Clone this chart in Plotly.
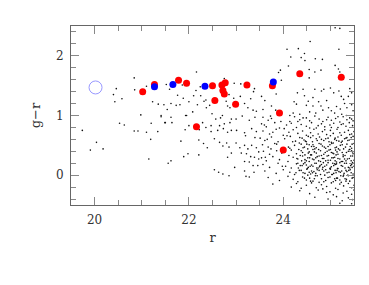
import plotly.graph_objects as go

# field objects (r, g-r)
field_stars = [
    # sparse, bright end
    (20.84, 1.63), (20.46, 1.45), (20.85, 1.43), (21.10, 1.49), (20.40, 1.35), (20.58, 1.28),
    (20.43, 1.23), (21.23, 1.23), (21.35, 1.19), (21.47, 1.18), (20.98, 1.01), (21.41, 1.00),
    (21.41, 0.98), (20.53, 0.87), (20.63, 0.84), (21.20, 0.87), (19.74, 0.75), (20.84, 0.74),
    (20.92, 0.74), (21.10, 0.72), (21.34, 0.73), (21.49, 0.88), (20.04, 0.55), (21.19, 0.60),
    (19.91, 0.42), (20.18, 0.44), (21.15, 0.27),
    # middle, upper
    (22.16, 1.73), (22.75, 1.62), (21.52, 1.52), (21.86, 1.51), (21.59, 1.44), (22.24, 1.48),
    (22.15, 1.42), (22.46, 1.49), (22.96, 1.54), (23.10, 1.53), (23.39, 1.45), (23.37, 1.40),
    (21.76, 1.34), (22.10, 1.33), (22.25, 1.33), (21.88, 1.29), (22.36, 1.26), (22.32, 1.24),
    (22.00, 1.23), (22.79, 1.24), (22.85, 1.35), (22.95, 1.29), (23.09, 1.32), (23.18, 1.20),
    (23.31, 1.28), (21.62, 1.20), (21.73, 1.17), (21.81, 1.18), (21.54, 1.10), (22.18, 1.18),
    (22.37, 1.13), (22.44, 1.17), (22.82, 1.16), (23.25, 1.13), (23.36, 1.09), (23.43, 1.07),
    (21.93, 1.00), (22.08, 1.06), (22.49, 1.03), (22.71, 1.00), (22.87, 1.13),
    # middle, lower
    (21.62, 0.97), (21.95, 1.00), (21.50, 0.88), (21.64, 0.88), (22.00, 0.83), (21.92, 0.76),
    (22.22, 0.76), (22.29, 0.88), (22.36, 0.80), (22.47, 0.83), (22.57, 0.94), (22.67, 0.96),
    (22.65, 0.83), (22.75, 0.86), (22.73, 0.78), (22.87, 0.88), (22.90, 0.94), (23.00, 0.94),
    (23.13, 0.99), (23.28, 0.92), (23.40, 0.97), (22.47, 0.73), (22.61, 0.75), (22.82, 0.72),
    (22.90, 0.75), (23.01, 0.75), (23.18, 0.71), (23.20, 0.66), (23.33, 0.78), (23.43, 0.73),
    (23.40, 0.63), (22.21, 0.59), (21.83, 0.57), (22.31, 0.53), (22.39, 0.46), (22.54, 0.61),
    (22.65, 0.55), (22.72, 0.49), (22.80, 0.54), (22.85, 0.47), (23.00, 0.54), (23.08, 0.46),
    (23.18, 0.50), (23.25, 0.44), (23.33, 0.50), (23.43, 0.46), (23.11, 0.37), (23.22, 0.36),
    (23.31, 0.31), (23.39, 0.30), (23.48, 0.27), (23.48, 0.39), (22.90, 0.37), (22.82, 0.30),
    (21.98, 0.36), (21.89, 0.31), (22.21, 0.34), (21.62, 0.24), (21.56, 0.20), (23.18, 0.23),
    (23.28, 0.22), (23.36, 0.16), (23.46, 0.16), (22.97, 0.13), (22.54, 0.09), (22.63, 0.05),
    (22.72, 0.02), (22.85, -0.01), (23.18, 0.07), (23.21, -0.02), (23.28, -0.03), (23.38, 0.05),
    # faint end, upper
    (25.10, 2.47), (25.20, 2.46), (24.57, 2.24), (24.08, 2.11), (24.32, 2.12), (24.45, 2.04),
    (25.18, 2.11), (24.16, 1.98), (24.38, 1.97), (24.46, 1.92), (24.68, 1.95), (24.83, 1.94),
    (24.11, 1.83), (25.10, 1.84), (25.17, 1.78), (25.20, 1.73), (23.94, 1.76), (23.90, 1.72),
    (24.55, 1.77), (24.67, 1.73), (24.80, 1.76), (23.96, 1.59), (24.42, 1.44), (24.55, 1.63),
    (24.67, 1.44), (24.81, 1.41), (24.86, 1.44), (25.00, 1.46), (25.07, 1.38), (25.18, 1.41),
    (25.41, 1.45), (25.45, 1.38), (25.38, 1.32), (23.54, 1.32), (23.85, 1.36), (23.61, 1.25),
    (23.75, 1.16), (23.84, 1.09), (24.23, 1.23), (24.28, 1.19), (24.49, 1.17), (24.53, 1.24),
    (24.63, 1.16), (24.75, 1.23), (24.80, 1.16), (24.92, 1.25), (24.96, 1.13), (24.84, 1.09),
    (25.02, 1.08), (25.13, 1.15), (25.21, 1.11), (25.30, 1.20), (25.35, 1.13), (25.45, 1.18),
    (25.48, 1.08), (25.09, 1.04), (25.24, 1.02), (25.34, 1.00), (24.56, 1.06), (24.69, 1.04),
    (24.35, 1.02), (24.21, 1.04), (24.14, 1.00), (24.63, 1.30), (24.45, 1.33), (24.30, 1.38),
    (25.23, 1.32), (25.28, 1.27), (23.57, 1.10),
    # faint end, dense cloud
    (23.57, 0.97), (23.68, 0.92), (23.75, 0.95), (24.14, 0.90), (24.24, 0.98), (24.35, 0.93),
    (24.42, 0.96), (24.56, 0.91), (24.67, 0.99), (24.76, 0.94), (24.84, 0.90), (24.95, 0.97),
    (25.02, 0.92), (25.11, 0.95), (25.20, 0.89), (25.27, 0.98), (25.35, 0.93), (25.41, 0.96),
    (25.48, 0.91), (23.73, 0.99), (24.31, 0.90), (24.49, 0.96), (24.92, 0.93), (25.16, 0.98),
    (25.45, 0.94),
    (23.54, 0.86), (23.64, 0.81), (23.82, 0.88), (23.92, 0.79), (24.07, 0.84), (24.17, 0.87),
    (24.28, 0.80), (24.38, 0.85), (24.49, 0.82), (24.60, 0.88), (24.70, 0.79), (24.81, 0.86),
    (24.88, 0.81), (24.99, 0.84), (25.07, 0.87), (25.16, 0.80), (25.23, 0.85), (25.33, 0.82),
    (25.40, 0.88), (25.47, 0.83), (24.56, 0.79), (24.74, 0.83), (25.02, 0.80), (25.27, 0.86),
    (23.57, 0.74), (23.71, 0.69), (23.85, 0.77), (24.00, 0.67), (24.12, 0.72), (24.21, 0.76),
    (24.31, 0.70), (24.41, 0.74), (24.49, 0.67), (24.58, 0.71), (24.65, 0.77), (24.74, 0.69),
    (24.83, 0.73), (24.92, 0.68), (25.00, 0.75), (25.06, 0.70), (25.14, 0.77), (25.23, 0.67),
    (25.30, 0.72), (25.38, 0.75), (25.45, 0.69), (25.50, 0.73), (24.63, 0.66), (24.88, 0.76),
    (25.20, 0.71), (25.41, 0.68),
    (23.51, 0.62), (23.61, 0.58), (23.75, 0.64), (23.89, 0.56), (24.03, 0.61), (24.15, 0.65),
    (24.26, 0.57), (24.35, 0.63), (24.44, 0.59), (24.53, 0.65), (24.62, 0.56), (24.70, 0.61),
    (24.77, 0.64), (24.86, 0.58), (24.95, 0.62), (25.02, 0.55), (25.09, 0.60), (25.16, 0.64),
    (25.25, 0.57), (25.33, 0.62), (25.40, 0.59), (25.48, 0.65), (24.49, 0.56), (24.81, 0.60),
    (25.13, 0.58), (25.35, 0.63), (25.00, 0.66),
    (23.56, 0.51), (23.68, 0.47), (23.82, 0.53), (24.14, 0.45), (24.24, 0.50), (24.34, 0.54),
    (24.42, 0.46), (24.50, 0.52), (24.60, 0.48), (24.67, 0.44), (24.76, 0.53), (24.83, 0.49),
    (24.90, 0.45), (24.99, 0.51), (25.06, 0.54), (25.13, 0.47), (25.21, 0.50), (25.28, 0.44),
    (25.35, 0.52), (25.42, 0.48), (25.50, 0.53), (24.70, 0.46), (24.95, 0.48), (25.23, 0.55),
    (25.45, 0.45), (24.63, 0.51),
    (23.58, 0.40), (23.71, 0.35), (24.17, 0.42), (24.28, 0.36), (24.38, 0.41), (24.46, 0.34),
    (24.55, 0.39), (24.63, 0.43), (24.70, 0.37), (24.79, 0.41), (24.86, 0.35), (24.93, 0.40),
    (25.00, 0.43), (25.07, 0.36), (25.14, 0.39), (25.20, 0.42), (25.27, 0.34), (25.34, 0.38),
    (25.41, 0.43), (25.48, 0.36), (24.53, 0.37), (24.81, 0.33), (25.02, 0.38), (25.16, 0.35),
    (25.38, 0.40), (25.45, 0.41), (24.60, 0.34), (25.11, 0.42),
    (23.54, 0.29), (23.64, 0.24), (23.78, 0.31), (23.92, 0.26), (24.10, 0.23), (24.21, 0.30),
    (24.31, 0.27), (24.41, 0.32), (24.49, 0.24), (24.56, 0.29), (24.65, 0.26), (24.72, 0.31),
    (24.79, 0.23), (24.86, 0.28), (24.93, 0.32), (25.00, 0.25), (25.06, 0.29), (25.13, 0.22),
    (25.20, 0.27), (25.27, 0.31), (25.33, 0.24), (25.40, 0.28), (25.47, 0.32), (24.46, 0.26),
    (24.69, 0.29), (24.90, 0.24), (25.09, 0.30), (25.30, 0.27), (25.50, 0.25), (25.23, 0.23),
    (23.57, 0.18), (23.71, 0.13), (23.89, 0.20), (24.05, 0.15), (24.17, 0.12), (24.28, 0.19),
    (24.36, 0.16), (24.46, 0.21), (24.53, 0.13), (24.60, 0.17), (24.67, 0.20), (24.74, 0.12),
    (24.81, 0.18), (24.88, 0.15), (24.95, 0.21), (25.02, 0.14), (25.09, 0.19), (25.16, 0.11),
    (25.23, 0.16), (25.30, 0.20), (25.38, 0.13), (25.45, 0.18), (25.50, 0.15), (24.49, 0.17),
    (24.77, 0.14), (24.99, 0.11), (25.20, 0.21), (25.41, 0.12), (24.63, 0.15), (25.11, 0.18),
    (23.61, 0.07), (23.85, 0.03), (24.00, 0.09), (24.14, 0.05), (24.24, 0.01), (24.34, 0.08),
    (24.42, 0.04), (24.50, 0.10), (24.58, 0.02), (24.65, 0.06), (24.72, 0.09), (24.79, 0.01),
    (24.86, 0.07), (24.93, 0.04), (25.00, 0.10), (25.07, 0.03), (25.14, 0.08), (25.21, 0.05),
    (25.28, 0.00), (25.35, 0.06), (25.42, 0.09), (25.48, 0.02), (24.55, 0.05), (24.83, 0.10),
    (25.04, 0.01), (25.33, 0.08), (24.69, 0.03), (25.18, 0.06),
    (23.68, -0.04), (23.92, -0.09), (24.10, -0.02), (24.21, -0.07), (24.31, -0.11), (24.41, -0.03),
    (24.49, -0.08), (24.56, -0.05), (24.63, -0.10), (24.72, -0.01), (24.81, -0.06), (24.90, -0.09),
    (24.99, -0.03), (25.06, -0.11), (25.13, -0.05), (25.20, -0.08), (25.27, -0.02), (25.34, -0.07),
    (25.41, -0.10), (25.48, -0.04), (24.76, -0.12), (25.09, -0.06), (25.38, -0.01),
    (23.78, -0.15), (24.17, -0.20), (24.28, -0.14), (24.38, -0.22), (24.49, -0.17), (24.60, -0.13),
    (24.70, -0.21), (24.81, -0.16), (24.92, -0.19), (25.02, -0.13), (25.11, -0.22), (25.20, -0.15),
    (25.28, -0.18), (25.38, -0.14), (25.45, -0.21), (25.50, -0.17), (24.84, -0.23), (25.23, -0.12),
    (24.35, -0.26), (24.56, -0.31), (24.74, -0.25), (24.92, -0.29), (25.06, -0.33), (25.16, -0.24),
    (25.27, -0.30), (25.35, -0.27), (25.45, -0.32), (25.50, -0.25), (24.99, -0.28),
    (24.67, -0.37), (24.95, -0.40), (25.13, -0.36), (25.25, -0.43), (25.38, -0.38), (25.47, -0.41),
    (25.20, -0.47), (25.45, -0.48),
    # extra points in the core of the cloud
    (24.40, 0.62), (24.58, 0.63), (24.90, 0.61), (25.10, 0.62), (25.30, 0.61), (25.44, 0.63),
    (24.47, 0.57), (24.72, 0.58), (24.97, 0.56), (25.18, 0.57), (25.37, 0.58),
    (24.38, 0.52), (24.55, 0.51), (24.80, 0.52), (25.03, 0.53), (25.25, 0.51), (25.46, 0.52),
    (24.45, 0.47), (24.65, 0.48), (24.87, 0.47), (25.10, 0.46), (25.32, 0.47),
    (24.33, 0.43), (24.52, 0.44), (24.75, 0.43), (24.97, 0.42), (25.17, 0.44), (25.40, 0.43),
    (24.41, 0.38), (24.66, 0.39), (24.89, 0.38), (25.05, 0.37), (25.25, 0.38), (25.47, 0.39),
    (24.36, 0.33), (24.58, 0.34), (24.76, 0.32), (24.96, 0.33), (25.12, 0.34), (25.31, 0.33),
    (25.43, 0.32),
    (24.29, 0.28), (24.52, 0.29), (24.62, 0.27), (24.83, 0.28), (25.03, 0.29), (25.16, 0.28),
    (25.36, 0.27),
    (24.39, 0.24), (24.55, 0.23), (24.75, 0.24), (24.95, 0.25), (25.10, 0.24), (25.26, 0.23),
    (25.44, 0.24),
    (24.31, 0.20), (24.43, 0.19), (24.70, 0.20), (24.85, 0.21), (25.05, 0.20), (25.13, 0.19),
    (25.34, 0.20), (25.47, 0.21),
    (24.40, 0.16), (24.57, 0.15), (24.78, 0.16), (24.92, 0.17), (25.07, 0.16), (25.26, 0.15),
    (25.43, 0.16),
    (24.32, 0.12), (24.51, 0.11), (24.71, 0.12), (24.84, 0.13), (25.00, 0.12), (25.15, 0.11),
    (25.31, 0.12), (25.46, 0.13),
    (24.38, 0.08), (24.60, 0.07), (24.76, 0.08), (24.90, 0.09), (25.10, 0.08), (25.24, 0.07),
    (25.39, 0.08),
    (24.27, 0.04), (24.46, 0.03), (24.62, 0.04), (24.97, 0.05), (25.12, 0.04), (25.29, 0.03),
    (25.44, 0.04),
    (24.52, 0.00), (24.68, -0.01), (24.88, 0.00), (25.03, 0.01), (25.22, -0.01), (25.37, 0.00),
    (24.45, -0.05), (24.66, -0.06), (24.95, -0.04), (25.15, -0.05), (25.31, -0.06), (25.46, -0.05),
    (24.58, -0.10), (24.86, -0.11), (25.11, -0.09), (25.33, -0.10),
    (23.60, 0.84), (23.78, 0.72), (23.95, 0.90), (24.02, 0.78), (23.66, 0.60), (23.86, 0.52),
    (24.08, 0.66), (23.74, 0.44), (23.97, 0.37), (24.11, 0.47), (23.62, 0.30), (23.86, 0.41),
    (24.20, 0.56), (23.98, 0.15), (24.12, 0.33),
]
field_r = [p[0] for p in field_stars]
field_gr = [p[1] for p in field_stars]

red_r = [21.02, 21.27, 21.78, 21.95, 22.50, 22.55, 22.70, 22.77, 22.72, 22.75,
         22.99, 23.23, 22.16, 23.77, 23.92, 24.00, 24.35, 25.23]
red_gr = [1.40, 1.52, 1.59, 1.54, 1.50, 1.25, 1.51, 1.55, 1.42, 1.36,
          1.19, 1.51, 0.81, 1.50, 1.04, 0.42, 1.70, 1.64]

blue_r = [21.27, 21.66, 22.34, 23.79]
blue_gr = [1.48, 1.52, 1.49, 1.56]

open_r = [20.02]
open_gr = [1.47]

fig = go.Figure()
fig.add_trace(go.Scatter(x=field_r, y=field_gr, mode="markers",
                         marker=dict(size=1.6, color="#111", line=dict(width=0))))
fig.add_trace(go.Scatter(x=red_r, y=red_gr, mode="markers",
                         marker=dict(size=7, color="#ff0000", line=dict(width=0))))
fig.add_trace(go.Scatter(x=blue_r, y=blue_gr, mode="markers",
                         marker=dict(size=7, color="#0000ff", line=dict(width=0))))
fig.add_trace(go.Scatter(x=open_r, y=open_gr, mode="markers",
                         marker=dict(size=13, color="rgba(0,0,0,0)",
                                     line=dict(width=1, color="#9999ff"))))

axis_style = dict(showgrid=False, zeroline=False, showline=True, linecolor="#666", linewidth=1,
                  mirror="allticks", ticks="inside", ticklen=8, tickcolor="#888", tickwidth=1,
                  automargin=False)
fig.update_xaxes(range=[19.5, 25.5], tick0=20, dtick=2, ticklabelstandoff=4,
                 minor=dict(dtick=0.5, ticks="inside", ticklen=5, tickcolor="#888"),
                 title=dict(text="r", standoff=6, font=dict(size=13)), **axis_style)
fig.update_yaxes(range=[-0.5, 2.5], tick0=0, dtick=1, ticklabelstandoff=4,
                 minor=dict(dtick=0.2, ticks="inside", ticklen=5, tickcolor="#888"),
                 title=dict(text="g−r", standoff=12, font=dict(size=13)), **axis_style)

# the page body adds an 8 px margin, so the figure is 8 px smaller than the window
fig.update_layout(width=361, height=277, margin=dict(l=63, r=15, t=18, b=80),
                  plot_bgcolor="white", paper_bgcolor="white", showlegend=False,
                  font=dict(family="DejaVu Serif", size=12, color="#333"))

fig.write_html("out.html")
